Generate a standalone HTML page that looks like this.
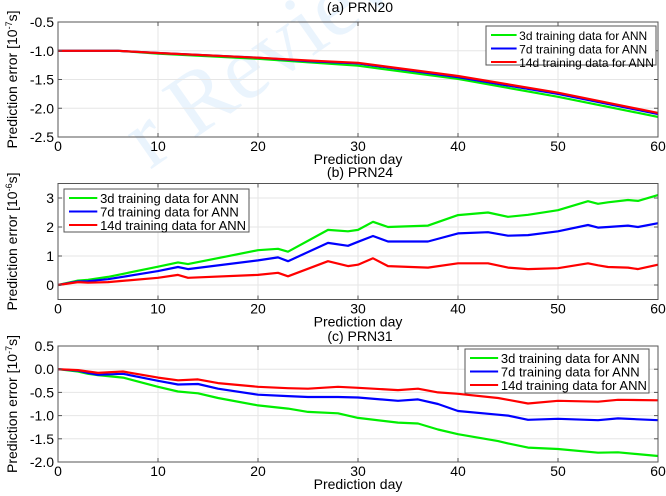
<!DOCTYPE html>
<html><head><meta charset="utf-8"><style>
body{margin:0;background:#fff}
svg{display:block;font-family:"Liberation Sans",Arial,sans-serif}
</style></head><body>
<svg id="c" width="666" height="496" viewBox="0 0 666 496">
<text x="150" y="170" font-family="Liberation Serif,serif" font-size="90" fill="#eaf4fd" transform="rotate(-35 150 170)">r Review</text>
</svg>
<script>
// Panel A (PRN20)
const aDays=[0,6,10,20,25,30,40,50,60];
const a3=[-1.0,-1.0,-1.05,-1.14,-1.2,-1.26,-1.49,-1.80,-2.15];
const a7=[-1.0,-1.0,-1.04,-1.12,-1.18,-1.22,-1.46,-1.75,-2.10];
const a14=[-1.0,-1.0,-1.04,-1.12,-1.17,-1.21,-1.44,-1.73,-2.08];
// Panel B (PRN24)
const bDays=[0,2,3,5,10,12,13,20,22,23,27,29,30,31.5,33,37,40,43,45,47,50,53,54,55,57,58,60];
const b3=[0,0.15,0.18,0.28,0.63,0.78,0.72,1.2,1.25,1.15,1.9,1.85,1.9,2.18,2.0,2.05,2.41,2.5,2.35,2.42,2.58,2.89,2.8,2.85,2.93,2.9,3.1];
const b7=[0,0.12,0.13,0.2,0.48,0.62,0.55,0.85,0.95,0.82,1.45,1.35,1.49,1.69,1.5,1.5,1.78,1.82,1.7,1.72,1.85,2.07,1.98,2.0,2.05,2.0,2.13];
const b14=[0,0.1,0.08,0.1,0.25,0.35,0.25,0.35,0.42,0.3,0.82,0.65,0.7,0.92,0.65,0.6,0.75,0.75,0.6,0.55,0.58,0.75,0.68,0.62,0.6,0.55,0.7];
// Panel C (PRN31)
const cDays=[0,2,3,4,6.5,10,12,14,16,20,23,25,28,30,34,36,38,40,44,45,47,50,54,56,60];
const c3=[0,-0.05,-0.1,-0.13,-0.18,-0.38,-0.48,-0.52,-0.62,-0.78,-0.85,-0.92,-0.95,-1.05,-1.15,-1.17,-1.3,-1.4,-1.55,-1.6,-1.69,-1.72,-1.8,-1.79,-1.87];
const c7=[0,-0.03,-0.08,-0.12,-0.1,-0.25,-0.33,-0.32,-0.42,-0.55,-0.58,-0.6,-0.6,-0.61,-0.68,-0.65,-0.75,-0.9,-0.98,-1.0,-1.09,-1.07,-1.1,-1.06,-1.1];
const c14=[0,-0.02,-0.05,-0.08,-0.05,-0.18,-0.24,-0.22,-0.3,-0.38,-0.41,-0.42,-0.38,-0.4,-0.45,-0.42,-0.5,-0.53,-0.62,-0.66,-0.74,-0.68,-0.7,-0.66,-0.67];
const xTicks=[0,10,20,30,40,50,60];
const aTicks=["-0.5","-1.0","-1.5","-2.0","-2.5"];
const bTicks=["0","1","2","3"];
const cTicks=["0.5","0.0","-0.5","-1.0","-1.5","-2.0"];
const legendLabels=["3d training data for ANN","7d training data for ANN","14d training data for ANN"];
const colors=["#00ee00","#0000ff","#ff0000"];

const NS="http://www.w3.org/2000/svg";
const svg=document.getElementById('c');
function el(t,a,p){const e=document.createElementNS(NS,t);for(const k in a)e.setAttribute(k,a[k]);(p||svg).appendChild(e);return e;}
function txt(s,a,p){const e=el('text',a,p);e.textContent=s;return e;}

function panel(cfg){
  const g=el('g',{});
  
  
  const L=58,R=658,T=cfg.top,B=cfg.bottom;
  const xs=v=>L+(v-0)/60*(R-L);
  const ys=v=>T+(cfg.ymax-v)/(cfg.ymax-cfg.ymin)*(B-T);
  xTicks.forEach(t=>{const l=el('line',{x1:xs(t),x2:xs(t),y1:T,y2:B,stroke:'#e6e6e6','stroke-width':1},g);});
  cfg.yTicks.forEach(s=>{const v=parseFloat(s);const l=el('line',{x1:L,x2:R,y1:ys(v),y2:ys(v),stroke:'#e6e6e6','stroke-width':1},g);});
  cfg.series.forEach((s,i)=>{
    const d=s.map((v,j)=>(j?'L':'M')+xs(cfg.days[j]).toFixed(1)+','+ys(v).toFixed(1)).join('');
    const p=el('path',{d:d,fill:'none',stroke:colors[i],'stroke-width':2.2,'stroke-linejoin':'round'},g);
    
    
  });
  const f=el('rect',{x:L,y:T,width:R-L,height:B-T,fill:'none',stroke:'#555','stroke-width':1},g);
  
  xTicks.forEach(t=>{
    el('line',{x1:xs(t),x2:xs(t),y1:B,y2:B-4,stroke:'#555'},g);
    el('line',{x1:xs(t),x2:xs(t),y1:T,y2:T+4,stroke:'#555'},g);
    const tl=txt(String(t),{x:xs(t),y:B+14,'text-anchor':'middle','font-size':14},g);
    
  });
  cfg.yTicks.forEach(s=>{
    const v=parseFloat(s);
    el('line',{x1:L,x2:L+4,y1:ys(v),y2:ys(v),stroke:'#555'},g);
    el('line',{x1:R,x2:R-4,y1:ys(v),y2:ys(v),stroke:'#555'},g);
    const tl=txt(s,{x:L-4,y:ys(v)+5,'text-anchor':'end','font-size':14},g);
    
  });
  const ti=txt(cfg.title,{x:360,y:cfg.titleY,'text-anchor':'middle','font-size':14},g);
  
  const xl=txt('Prediction day',{x:358,y:B+27,'text-anchor':'middle','font-size':14},g);
  
  const yl=el('text',{x:0,y:0,'text-anchor':'middle','font-size':14,transform:`translate(17,${(T+B)/2}) rotate(-90)`},g);
  
  yl.innerHTML='Prediction error [10<tspan dy="-5" font-size="9">'+cfg.exp+'</tspan><tspan dy="5">s]</tspan>';
  const lg=el('g',{},g);
  
  const [lx,ly,lw,lh]=cfg.legend;
  el('rect',{x:lx,y:ly,width:lw,height:lh,fill:'#fff',stroke:'#555'},lg);
  legendLabels.forEach((s,i)=>{
    const yy=ly+8+i*13.5;
    const ln=el('line',{x1:lx+5,x2:lx+lw*0.18,y1:yy+1,y2:yy+1,stroke:colors[i],'stroke-width':2},lg);
    
    const t=txt(s,{x:lx+lw*0.195,y:yy+6,'font-size':cfg.lfs},lg);
    
  });
}
panel({name:'panel-a-prn20',top:22,bottom:137,ymax:-0.5,ymin:-2.5,yTicks:aTicks,days:aDays,series:[a3,a7,a14],title:'(a) PRN20',titleY:12,exp:'-7',legend:[486,26,170,39],lfs:12});
panel({name:'panel-b-prn24',top:183.5,bottom:299.5,ymax:3.5,ymin:-0.5,yTicks:bTicks,days:bDays,series:[b3,b7,b14],title:'(b) PRN24',titleY:177,exp:'-6',legend:[64,189,185,43],lfs:13});
panel({name:'panel-c-prn31',top:346,bottom:462,ymax:0.5,ymin:-2.0,yTicks:cTicks,days:cDays,series:[c3,c7,c14],title:'(c) PRN31',titleY:341,exp:'-7',legend:[465,349,184,44],lfs:13});
</script>
</body></html>
